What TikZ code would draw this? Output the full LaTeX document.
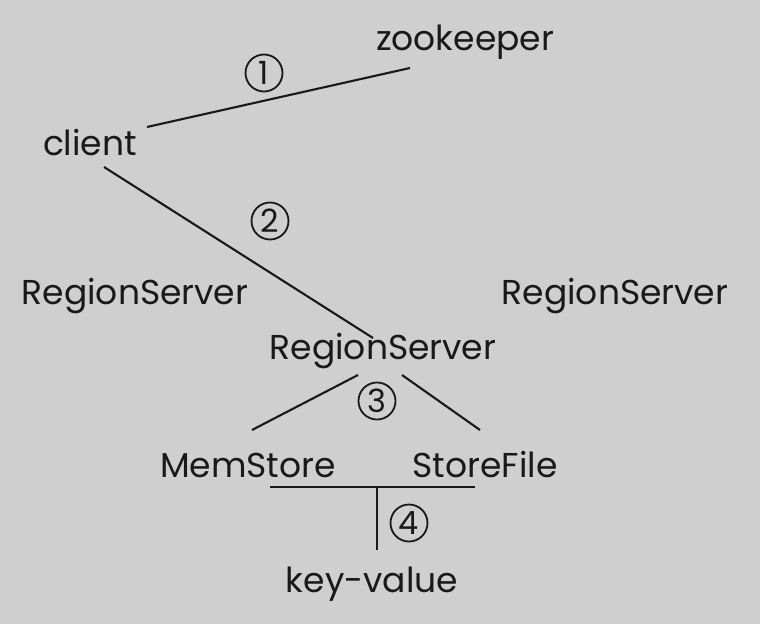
\documentclass[tikz,border=0pt]{standalone}
\usepackage{fontspec}
\setmainfont{Poppins}
\definecolor{bg}{RGB}{207,207,207}
\definecolor{ink}{RGB}{25,25,25}
\begin{document}
\begin{tikzpicture}[x=1pt,y=-1pt,
  lbl/.style={inner sep=0pt,font=\fontsize{34.5}{38}\selectfont,text=ink,anchor=center,yshift=-2pt},
  num/.style={circle,draw=ink,line width=1.8pt,minimum size=37pt,inner sep=0pt,font=\fontsize{32}{33}\selectfont,text=ink},
  conn/.style={draw=ink,line width=2.1pt}]
\fill[bg] (0,0) rectangle (760,624);
\useasboundingbox (0,0) rectangle (760,624);
\node[lbl] (zk) at (465,40) {zookeeper};
\node[lbl] (cl) at (90,141) {client};
\node[lbl] (rsl) at (135,294) {RegionServer};
\node[lbl] (rsr) at (615,294) {RegionServer};
\node[lbl] (rsm) at (383,349) {RegionServer};
\node[lbl] (ms) at (248,463) {MemStore};
\node[lbl] (sf) at (485,463) {StoreFile};
\node[lbl] (kv) at (372,582) {key-value};
\node[num] (n1) at (264,73) {1};
\node[num] (n2) at (270,221) {2};
\node[num] (n3) at (377,401) {3};
\node[num] (n4) at (409,523) {4};
\coordinate (a1) at (147,127);
\coordinate (a2) at (410,68);
\coordinate (b1) at (104,167);
\coordinate (b2) at (373,338);
\coordinate (c0) at (358,375);
\coordinate (c1) at (252,430);
\coordinate (d0) at (402,375);
\coordinate (d1) at (480,430);
\coordinate (h1) at (270,487);
\coordinate (h2) at (475,487);
\coordinate (v1) at (377,487);
\coordinate (v2) at (377,550);
\draw[conn] (a1) -- (a2);
\draw[conn] (b1) -- (b2);
\draw[conn] (c0) -- (c1);
\draw[conn] (d0) -- (d1);
\draw[conn] (h1) -- (h2);
\draw[conn] (v1) -- (v2);
\end{tikzpicture}
\end{document}
